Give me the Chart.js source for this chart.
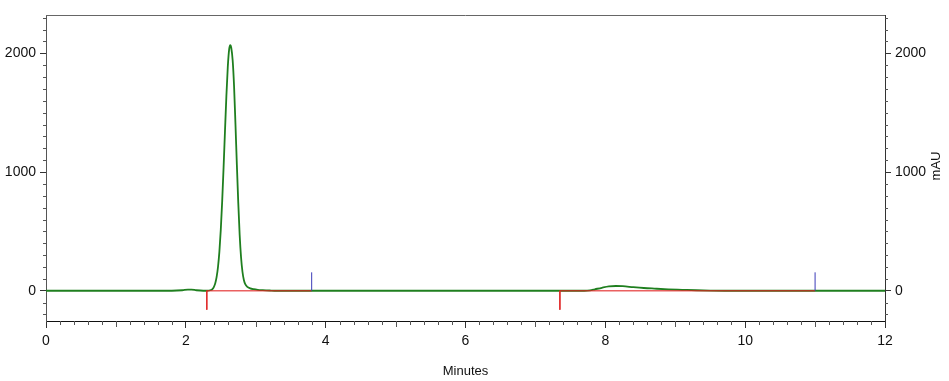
<!DOCTYPE html>
<html lang="en">
<head>
    <meta charset="UTF-8">
    <title>Chromatogram</title>
    <script src="https://cdn.jsdelivr.net/npm/chart.js"></script>
    <style>
        body { margin: 0; background: #fff; }
        canvas { display: block; }
    </style>
</head>
<body>
    <canvas id="chrom" width="949" height="381"></canvas>

    <script>
        // signal trace (minutes, mAU)
        const timeMin = [
            0, 1.80, 1.95, 2.03, 2.08, 2.15, 2.25, 2.30,
            2.36, 2.38, 2.40, 2.42, 2.44, 2.46, 2.48, 2.50, 2.52, 2.54, 2.56, 2.58, 2.60, 2.62,
            2.635, 2.65, 2.67, 2.69, 2.71, 2.73, 2.75, 2.77, 2.79, 2.81, 2.83, 2.85, 2.88,
            2.92, 2.97, 3.03, 3.10, 3.20, 3.30,
            7.70, 7.78, 7.85, 7.95, 8.05, 8.15, 8.25, 8.40, 8.55, 8.70, 8.90, 9.10, 9.30, 9.50, 9.70,
            12
        ];
        const signalMAU = [
            0, 0, 4, 10, 10, 4, 0, 0,
            6, 14, 31, 61, 114, 200, 330, 515, 755, 1040, 1345, 1640, 1885, 2035,
            2068, 2045, 1940, 1720, 1400, 1060, 740, 470, 280, 160, 90, 55, 32,
            20, 13, 8, 5, 2, 0,
            0, 3, 12, 25, 36, 40, 38, 30, 23, 18, 12, 8, 4, 1, 0,
            0
        ];

        // integration baselines and their start / end marks
        const baselineStart = [2.30, 7.35];
        const baselineEnd = [3.80, 11.00];
        const startMarkDepth = -160;
        const endMarkHeight = 155;

        // axes
        const xTickLabels = [0, 2, 4, 6, 8, 10, 12];
        const yTickLabels = [0, 1000, 2000];
        const xRange = [0, 12];
        const yRange = [-255, 2323];

        const trace = timeMin.map((t, i) => ({ x: t, y: signalMAU[i] }));

        const baseline = [];
        baselineStart.forEach((s, i) => {
            baseline.push({ x: s, y: 0 }, { x: baselineEnd[i], y: 0 }, { x: baselineEnd[i], y: null });
        });
        const startMarks = [];
        baselineStart.forEach(s => {
            startMarks.push({ x: s, y: 0 }, { x: s, y: startMarkDepth }, { x: s, y: null });
        });
        const endMarks = [];
        baselineEnd.forEach(e => {
            endMarks.push({ x: e, y: 0 }, { x: e, y: endMarkHeight }, { x: e, y: null });
        });

        const fontFamily = "'Liberation Sans Narrow', 'Arial Narrow', 'Liberation Sans', Arial, sans-serif";
        const tickFont = { family: fontFamily, size: 14 };
        const titleFont = { family: fontFamily, size: 13 };
        const plainLabel = v => String(v);

        // minor ticks, top border and the right-hand unit label
        const frameExtras = {
            id: 'frameExtras',
            afterDraw(chart) {
                const ctx = chart.ctx;
                const area = chart.chartArea;
                const x = chart.scales.x;
                const y = chart.scales.y;
                ctx.save();
                ctx.lineWidth = 1;
                ctx.strokeStyle = '#555';

                ctx.beginPath();
                for (let v = -200; v <= 2300; v += 100) {
                    if (v % 1000 === 0) continue;
                    const py = Math.round(y.getPixelForValue(v)) + 0.5;
                    ctx.moveTo(area.left - 3, py); ctx.lineTo(area.left, py);
                    ctx.moveTo(area.right, py); ctx.lineTo(area.right + 3, py);
                }
                for (let k = 0; k <= 60; k++) {
                    if (k % 10 === 0) continue;
                    const px = Math.round(x.getPixelForValue(k * 0.2)) + 0.5;
                    const len = (k % 5 === 0) ? 6 : 4;
                    ctx.moveTo(px, area.bottom); ctx.lineTo(px, area.bottom + len);
                }
                ctx.stroke();

                ctx.strokeStyle = '#666';
                ctx.beginPath();
                ctx.moveTo(area.left, area.top + 0.5);
                ctx.lineTo(area.right, area.top + 0.5);
                ctx.stroke();

                ctx.fillStyle = '#111';
                ctx.font = '13px ' + fontFamily;
                ctx.textAlign = 'center';
                ctx.textBaseline = 'middle';
                ctx.translate(936, 166);
                ctx.rotate(-Math.PI / 2);
                ctx.fillText('mAU', 0, 0);
                ctx.restore();
            }
        };

        new Chart(document.getElementById('chrom').getContext('2d'), {
            type: 'line',
            data: {
                datasets: [
                    {
                        data: trace,
                        borderColor: '#1f7f1f',
                        borderWidth: 1.8,
                        pointRadius: 0,
                        tension: 0.3,
                        cubicInterpolationMode: 'monotone',
                        order: 3
                    },
                    {
                        data: baseline,
                        borderColor: 'rgba(225, 30, 30, 0.7)',
                        borderWidth: 1.5,
                        pointRadius: 0,
                        spanGaps: false,
                        order: 2
                    },
                    {
                        data: startMarks,
                        borderColor: '#e02a2a',
                        borderWidth: 1,
                        pointRadius: 0,
                        spanGaps: false,
                        order: 1
                    },
                    {
                        data: endMarks,
                        borderColor: '#3a3ab8',
                        borderWidth: 1,
                        pointRadius: 0,
                        spanGaps: false,
                        order: 1
                    }
                ]
            },
            options: {
                responsive: false,
                animation: false,
                events: [],
                layout: { padding: { top: 15, left: 0, right: 0, bottom: 0 } },
                plugins: { legend: { display: false }, tooltip: { enabled: false } },
                scales: {
                    x: {
                        type: 'linear',
                        min: xRange[0],
                        max: xRange[1],
                        afterBuildTicks: s => { s.ticks = xTickLabels.map(v => ({ value: v })); },
                        afterFit: s => { s.height = 60; },
                        grid: { drawOnChartArea: false, tickLength: 7, tickColor: '#333' },
                        border: { color: '#111', width: 1 },
                        ticks: { font: tickFont, color: '#111', padding: 5, maxRotation: 0, callback: plainLabel },
                        title: { display: true, text: 'Minutes', font: titleFont, color: '#111', padding: { top: 0, bottom: 2 } }
                    },
                    y: {
                        position: 'left',
                        min: yRange[0],
                        max: yRange[1],
                        afterBuildTicks: s => { s.ticks = yTickLabels.map(v => ({ value: v })); },
                        afterFit: s => { s.width = 46; },
                        grid: { drawOnChartArea: false, tickLength: 6, tickColor: '#333' },
                        border: { color: '#555', width: 1 },
                        ticks: { font: tickFont, color: '#111', padding: 4, callback: plainLabel }
                    },
                    y2: {
                        position: 'right',
                        min: yRange[0],
                        max: yRange[1],
                        afterBuildTicks: s => { s.ticks = yTickLabels.map(v => ({ value: v })); },
                        afterFit: s => { s.width = 64; },
                        grid: { drawOnChartArea: false, tickLength: 6, tickColor: '#333' },
                        border: { color: '#333', width: 1 },
                        ticks: { font: tickFont, color: '#111', padding: 4, callback: plainLabel }
                    }
                }
            },
            plugins: [frameExtras]
        });
    </script>
</body>
</html>
